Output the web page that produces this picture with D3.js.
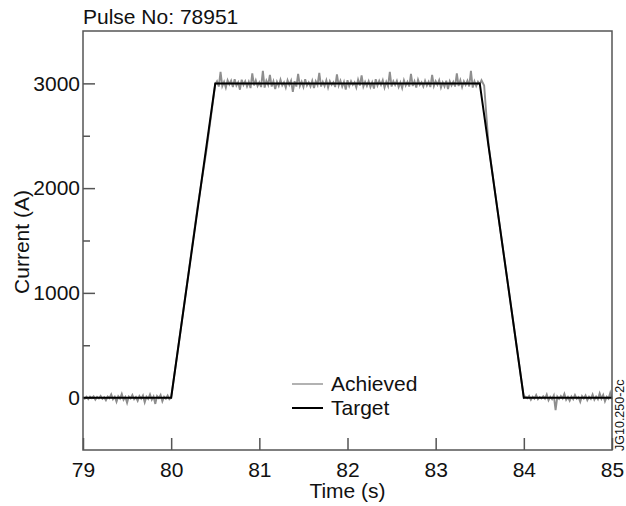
<!DOCTYPE html>
<html>
<head>
<meta charset="utf-8">
<script src="https://cdn.jsdelivr.net/npm/d3@7"></script>
<style>
  body { margin: 0; background: #fff; }
  svg text { font-family: "Liberation Sans", Arial, sans-serif; fill: #111; }
</style>
</head>
<body>
<div id="chart"></div>
<script>
var width = 626,
	height = 506;
var margin = {top: 31, right: 14, bottom: 56, left: 83};

// target waveform (time s, current A)
var targetTime = [79, 80, 80.5, 83.5, 84, 85];
var targetCurrent = [0, 0, 3000, 3000, 0, 0];

// achieved: flat part before the ramp, 79.00 .. 79.98 every 0.02 s
var preStart = 79, sampleStep = 0.02;
var preCurrent = [5,-10,8,-15,10,-5,12,-20,6,-8,15,-12,4,-25,10,-6,30,-15,8,-40,
	12,-10,35,-20,6,-50,10,-8,25,-15,5,-30,15,-10,20,-45,8,-12,30,-20,
	10,-60,15,-5,25,-35,8,-10,20,-15];

// ramp up, 80.0 .. 80.5
var rampUpTime = [80, 80.1, 80.2, 80.3, 80.4, 80.5];
var rampUpCurrent = [0, 600, 1210, 1820, 2360, 2990];

// flat top, 80.52 .. 83.52 every 0.02 s
var topStart = 80.52;
var topCurrent = [3020,2970,3110,2975,3015,2960,3030,2990,3025,2965,3040,2980,3010,2940,3035,2985,3020,2970,3015,2955,
	3095,2980,3030,2975,3010,2965,3120,2960,3025,2985,3080,2970,3020,2945,3015,2975,3035,2980,3010,2960,
	3030,2985,3025,2920,3020,2970,3090,2975,3015,2965,3040,2980,3010,2970,3025,2955,3020,2985,3100,2970,
	3015,2975,3030,2960,3020,2985,3010,2965,3085,2980,3025,2970,3015,2940,3030,2975,3020,2985,3010,2960,
	3035,2980,3075,2970,3015,2975,3020,2965,3010,2950,3040,2980,3025,2985,3030,2960,3015,2975,3110,2970,
	3020,2985,3025,2965,3010,2955,3030,2980,3015,2970,3090,2975,3020,2960,3035,2985,3010,2970,3025,2980,
	3015,2965,3080,2975,3020,2985,3030,2960,3010,2970,3025,2945,3020,2980,3015,2970,3095,2975,3030,2965,
	3020,2985,3025,2970,3120,2960,3020,2975,3015,2990,3030];

// ramp down, 83.55 .. 84.0
var rampDownTime = [83.55, 83.6, 83.7, 83.8, 83.9, 84];
var rampDownCurrent = [2980, 2410, 1800, 1200, 600, 0];

// flat part after the ramp, 84.02 .. 85.00 every 0.02 s
var postStart = 84.02;
var postCurrent = [10,-5,15,-20,8,-10,25,-15,6,-8,12,-10,30,-25,8,-15,20,-120,10,-12,
	15,-8,35,-20,6,-30,10,-15,25,-10,5,-40,15,-8,20,-25,8,-12,30,-20,
	10,-15,40,-10,25,-35,8,-10,45,-15];

var xTicks = [79, 80, 81, 82, 83, 84, 85];
var yTicks = [0, 1000, 2000, 3000];
var yMinorTicks = [500, 1500, 2500];

function sampled(start, values) {
	return values.map(function(v, i) { return [start + i * sampleStep, v]; });
}
function paired(times, values) {
	return times.map(function(t, i) { return [t, values[i]]; });
}

var achieved = [].concat(
	sampled(preStart, preCurrent),
	paired(rampUpTime, rampUpCurrent),
	sampled(topStart, topCurrent),
	paired(rampDownTime, rampDownCurrent),
	sampled(postStart, postCurrent));
var target = paired(targetTime, targetCurrent);

var svg = d3.select("#chart")
	.append("svg")
	.attr("width", width)
	.attr("height", height);

var x = d3.scaleLinear().domain([79, 85]).range([margin.left, width - margin.right]);
var y = d3.scaleLinear().domain([-500, 3500]).range([height - margin.bottom, margin.top]);

var line = d3.line()
	.x(function(d) { return x(d[0]); })
	.y(function(d) { return y(d[1]); });

// axes, ticks pointing inward
var xAxis = svg.append("g")
	.attr("transform", "translate(0," + (height - margin.bottom) + ")")
	.call(d3.axisBottom(x).tickValues(xTicks).tickFormat(d3.format("d")).tickSizeInner(-12).tickSizeOuter(0).tickPadding(10));

var yAxis = svg.append("g")
	.attr("transform", "translate(" + margin.left + ",0)")
	.call(d3.axisLeft(y).tickValues(yTicks).tickFormat(d3.format("d")).tickSizeInner(-12).tickSizeOuter(0).tickPadding(3));

svg.append("g")
	.attr("transform", "translate(" + margin.left + ",0)")
	.call(d3.axisLeft(y).tickValues(yMinorTicks).tickFormat("").tickSizeInner(-7).tickSizeOuter(0));

svg.selectAll(".domain").remove();
svg.selectAll(".tick line").attr("stroke", "#555").attr("stroke-width", 1.5);
svg.selectAll(".tick text")
	.attr("font-size", "21px")
	.attr("fill", "#111")
	.style("font-family", "'Liberation Sans', Arial, sans-serif");
xAxis.selectAll(".tick text").attr("dy", "0.8em");

// data lines
svg.append("path")
	.datum(achieved)
	.attr("fill", "none")
	.attr("stroke", "#8e8e8e")
	.attr("stroke-width", 1.9)
	.attr("d", line);

svg.append("path")
	.datum(target)
	.attr("fill", "none")
	.attr("stroke", "#000")
	.attr("stroke-width", 2)
	.attr("d", line);

// frame
svg.append("rect")
	.attr("x", margin.left)
	.attr("y", margin.top)
	.attr("width", width - margin.left - margin.right)
	.attr("height", height - margin.top - margin.bottom)
	.attr("fill", "none")
	.attr("stroke", "#555")
	.attr("stroke-width", 1.5);

// titles
svg.append("text")
	.attr("x", margin.left)
	.attr("y", 24)
	.attr("font-size", "21px")
	.text("Pulse No: 78951");

svg.append("text")
	.attr("x", x(82))
	.attr("y", 498)
	.attr("text-anchor", "middle")
	.attr("font-size", "21px")
	.text("Time (s)");

svg.append("text")
	.attr("transform", "translate(29," + 242 + ") rotate(-90)")
	.attr("text-anchor", "middle")
	.attr("font-size", "21px")
	.text("Current (A)");

svg.append("text")
	.attr("transform", "translate(624," + 451 + ") rotate(-90)")
	.attr("font-size", "12.5px")
	.text("JG10.250-2c");

// legend
var legend = [
	{name: "Achieved", color: "#999", w: 1.5},
	{name: "Target", color: "#000", w: 2}
];
var legendItems = svg.selectAll(".legend")
	.data(legend)
	.enter()
	.append("g")
	.attr("class", "legend")
	.attr("transform", function(d, i) { return "translate(292," + (384 + i * 24) + ")"; });

legendItems.append("line")
	.attr("x1", 0)
	.attr("x2", 31)
	.attr("stroke", function(d) { return d.color; })
	.attr("stroke-width", function(d) { return d.w; });

legendItems.append("text")
	.attr("x", 39)
	.attr("y", 7)
	.attr("font-size", "21px")
	.text(function(d) { return d.name; });
</script>
</body>
</html>
